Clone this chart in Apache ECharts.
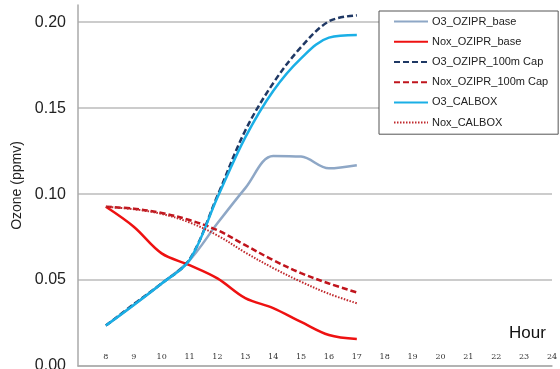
<!DOCTYPE html>
<html>
<head>
<meta charset="utf-8">
<script src="https://cdn.jsdelivr.net/npm/echarts@6/dist/echarts.min.js"></script>
<style>
  html, body { margin: 0; padding: 0; background: #fff; }
  #main { width: 560px; height: 369px; }
</style>
</head>
<body>
<div id="main"></div>
<script>
// hours of the day (x)
var hours = [8, 9, 10, 11, 12, 13, 14, 15, 16, 17]
// ozone / NOx in ppmv
var o3OziprBase = [0.0235, 0.0355, 0.048, 0.0615, 0.083, 0.1035, 0.1222, 0.1218, 0.115, 0.1168]
var noxOziprBase = [0.0926, 0.081, 0.0655, 0.0587, 0.051, 0.0395, 0.0337, 0.0256, 0.018, 0.0157]
var o3Ozipr100 = [0.0235, 0.036, 0.048, 0.062, 0.099, 0.137, 0.1645, 0.1855, 0.2005, 0.204]
var noxOzipr100 = [0.0926, 0.0915, 0.089, 0.0849, 0.079, 0.0703, 0.0616, 0.054, 0.048, 0.0428]
var o3Calbox = [0.0235, 0.0355, 0.048, 0.0616, 0.098, 0.133, 0.16, 0.179, 0.191, 0.1925]
var noxCalbox = [0.0926, 0.0912, 0.0885, 0.0835, 0.076, 0.066, 0.057, 0.049, 0.042, 0.0365]

var seriesNames = ['O3_OZIPR_base', 'Nox_OZIPR_base', 'O3_OZIPR_100m Cap', 'Nox_OZIPR_100m Cap', 'O3_CALBOX', 'Nox_CALBOX']

function pairs(vals) {
  return hours.map(function (h, i) { return [h, vals[i]] })
}

function makeLine(name, vals, color, type, width) {
  return {
    name: name,
    type: 'line',
    smooth: 0.35,
    showSymbol: false,
    symbol: 'none',
    clip: false,
    lineStyle: { color: color, type: type, width: width },
    itemStyle: { color: color },
    data: pairs(vals)
  }
}

var myChart = echarts.init(document.getElementById('main'))

var option = {
  animation: false,
  backgroundColor: '#fff',
  title: {
    text: 'Hour',
    left: 509,
    top: 325,
    padding: 0,
    textStyle: { fontFamily: 'Liberation Sans', fontSize: 17, fontWeight: 'normal', color: '#111' }
  },
  legend: {
    orient: 'vertical',
    left: 379,
    top: 11,
    padding: [5, 10, 6, 14],
    itemWidth: 34,
    itemHeight: 14,
    itemGap: 9,
    backgroundColor: '#fff',
    borderColor: '#555',
    borderWidth: 1,
    // only the line sample, no marker
    itemStyle: { opacity: 0 },
    textStyle: { fontFamily: 'Liberation Sans', fontSize: 11, color: '#222', padding: [0, 0, 0, -1] },
    data: seriesNames
  },
  grid: {
    left: 78,
    right: 8,
    top: 5,
    bottom: 3,
    outerBoundsMode: 'none'
  },
  xAxis: {
    type: 'value',
    min: 7,
    max: 24,
    interval: 1,
    axisLine: { lineStyle: { color: '#aaa', width: 1.5 } },
    axisTick: { show: false },
    splitLine: { show: false },
    axisLabel: {
      inside: true,
      showMinLabel: false,
      margin: 5,
      fontFamily: 'DejaVu Serif',
      fontSize: 8,
      color: '#333'
    }
  },
  yAxis: {
    type: 'value',
    min: 0,
    max: 0.21,
    interval: 0.05,
    name: 'Ozone (ppmv)',
    nameLocation: 'middle',
    nameGap: 54,
    nameRotate: 90,
    nameTextStyle: { fontFamily: 'Liberation Sans', fontSize: 14, color: '#222' },
    axisLine: { show: true, lineStyle: { color: '#aaa', width: 1.5 } },
    axisTick: { show: false },
    axisLabel: {
      margin: 12,
      showMaxLabel: false,
      fontFamily: 'Liberation Sans',
      fontSize: 16,
      color: '#222',
      formatter: function (v) { return v.toFixed(2) }
    },
    splitLine: {
      lineStyle: { color: ['#bbb', '#bbb', '#bbb', '#bbb', '#bbb', 'rgba(0,0,0,0)'], width: 1.5 }
    }
  },
  series: [
    makeLine(seriesNames[0], o3OziprBase, '#8EA7C6', 'solid', 2.5),
    makeLine(seriesNames[1], noxOziprBase, '#EE1111', 'solid', 2.5),
    makeLine(seriesNames[2], o3Ozipr100, '#1F3864', [6, 3], 2.5),
    makeLine(seriesNames[3], noxOzipr100, '#C0141C', [6, 3], 2.5),
    makeLine(seriesNames[4], o3Calbox, '#1AAFE6', 'solid', 2.5),
    makeLine(seriesNames[5], noxCalbox, '#C0282C', [1.5, 1.5], 2)
  ]
}

myChart.setOption(option)
</script>
</body>
</html>
